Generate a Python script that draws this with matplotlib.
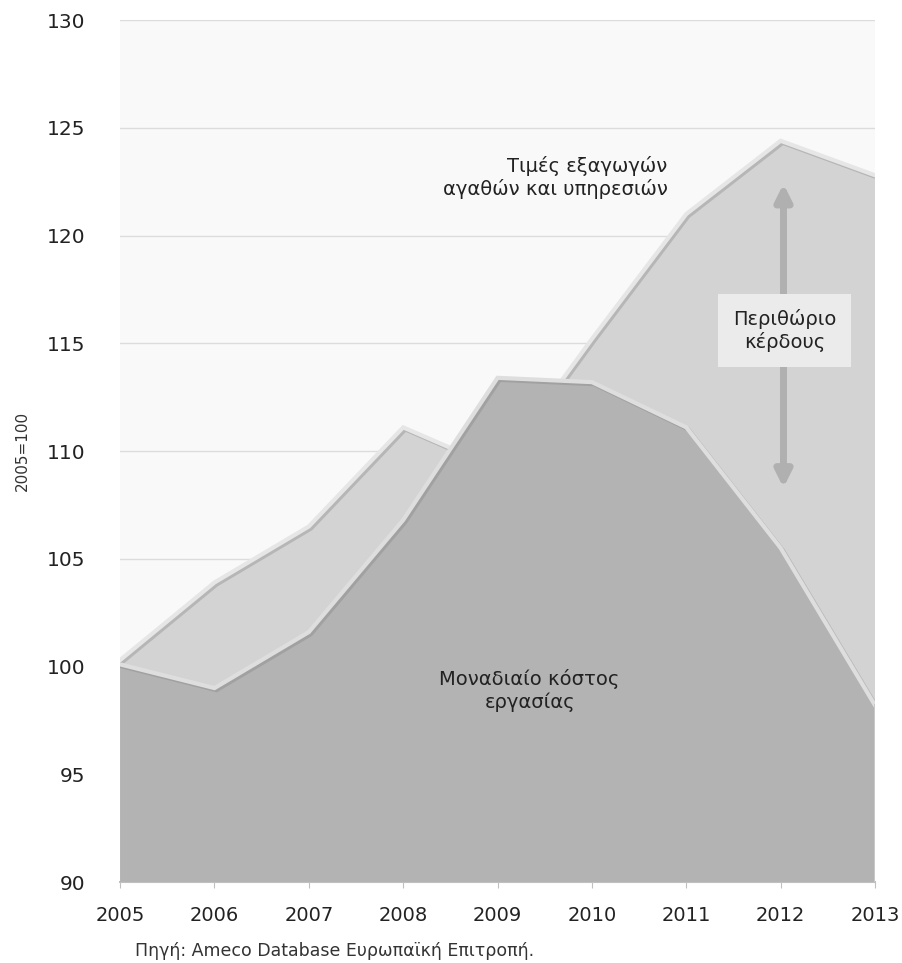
import matplotlib
matplotlib.use("Agg")
import matplotlib.pyplot as plt
import matplotlib.patheffects as pe

years = [2005, 2006, 2007, 2008, 2009, 2010, 2011, 2012, 2013]
export_prices = [100.3, 103.9, 106.5, 111.1, 109.2, 115.2, 121.0, 124.4, 122.8]
unit_labour_cost = [100.1, 99.0, 101.6, 106.8, 113.4, 113.2, 111.1, 105.5, 98.2]
y_ticks = [90, 95, 100, 105, 110, 115, 120, 125, 130]

plt.rcParams['font.family'] = ['DejaVu Sans']

fig = plt.figure(figsize=(9.03, 9.63), dpi=100)
ax = fig.add_axes([0.133, 0.0841, 0.836, 0.895])
ax.set_facecolor('#f9f9f9')

ax.set_xlim(2005, 2013)
ax.set_ylim(90, 130)
ax.set_yticks(y_ticks)
ax.set_xticks(years)
ax.grid(axis='y', color='#dcdcdc', linewidth=1.0, zorder=0)
ax.set_axisbelow(True)

shadow = [pe.SimpleLineShadow(offset=(1.5, -1.5), shadow_color='#808080', alpha=0.35), pe.Normal()]

ax.fill_between(years, export_prices, 90, facecolor='#d3d3d3', edgecolor='none', zorder=2)
ax.plot(years, export_prices, color='#e6e6e6', linewidth=3, zorder=3, path_effects=shadow,
        solid_joinstyle='miter')
ax.fill_between(years, unit_labour_cost, 90, facecolor='#b3b3b3', edgecolor='none', zorder=4)
ax.plot(years, unit_labour_cost, color='#dedede', linewidth=3, zorder=5, path_effects=shadow,
        solid_joinstyle='miter')
ax.plot([2013, 2013], [90, unit_labour_cost[-1]], color='#c8c8c8', linewidth=1.5, zorder=5)

for s in ['top', 'right', 'left']:
    ax.spines[s].set_visible(False)
ax.spines['bottom'].set_color('#c0c0c0')
ax.spines['bottom'].set_linewidth(1.5)
ax.tick_params(axis='y', length=0, pad=25, labelsize=14.5, labelcolor='#222222')
ax.tick_params(axis='x', length=4, color='#c0c0c0', pad=13, labelsize=14, labelcolor='#222222')
for lab in ax.get_yticklabels():
    lab.set_horizontalalignment('right')

ax.set_ylabel('2005=100', fontsize=11, color='#333333', labelpad=12)

# Annotations
ax.annotate('', xy=(2012.03, 122.4), xytext=(2012.03, 108.3),
            arrowprops=dict(arrowstyle='<|-|>', color='#b0b0b0', lw=5, mutation_scale=24,
                            shrinkA=0, shrinkB=0), zorder=6)
ax.text(2012.04, 115.6, 'Περιθώριο\nκέρδους', ha='center', va='center', fontsize=14,
        color='#222222', linespacing=1.2, zorder=7,
        bbox=dict(boxstyle='square,pad=0.75', facecolor='#ebebeb', edgecolor='none'))
ax.text(2010.8, 122.7, 'Τιμές εξαγωγών\nαγαθών και υπηρεσιών', ha='right', va='center',
        fontsize=14, color='#222222', linespacing=1.2, zorder=7)
ax.text(2009.34, 98.9, 'Μοναδιαίο κόστος\nεργασίας', ha='center', va='center',
        fontsize=14, color='#222222', linespacing=1.2, zorder=7)

fig.text(0.149, 0.003, 'Πηγή: Ameco Database Ευρωπαϊκή Επιτροπή.', fontsize=12.5,
         color='#333333', ha='left', va='bottom')

fig.savefig('out.png', dpi=100)
